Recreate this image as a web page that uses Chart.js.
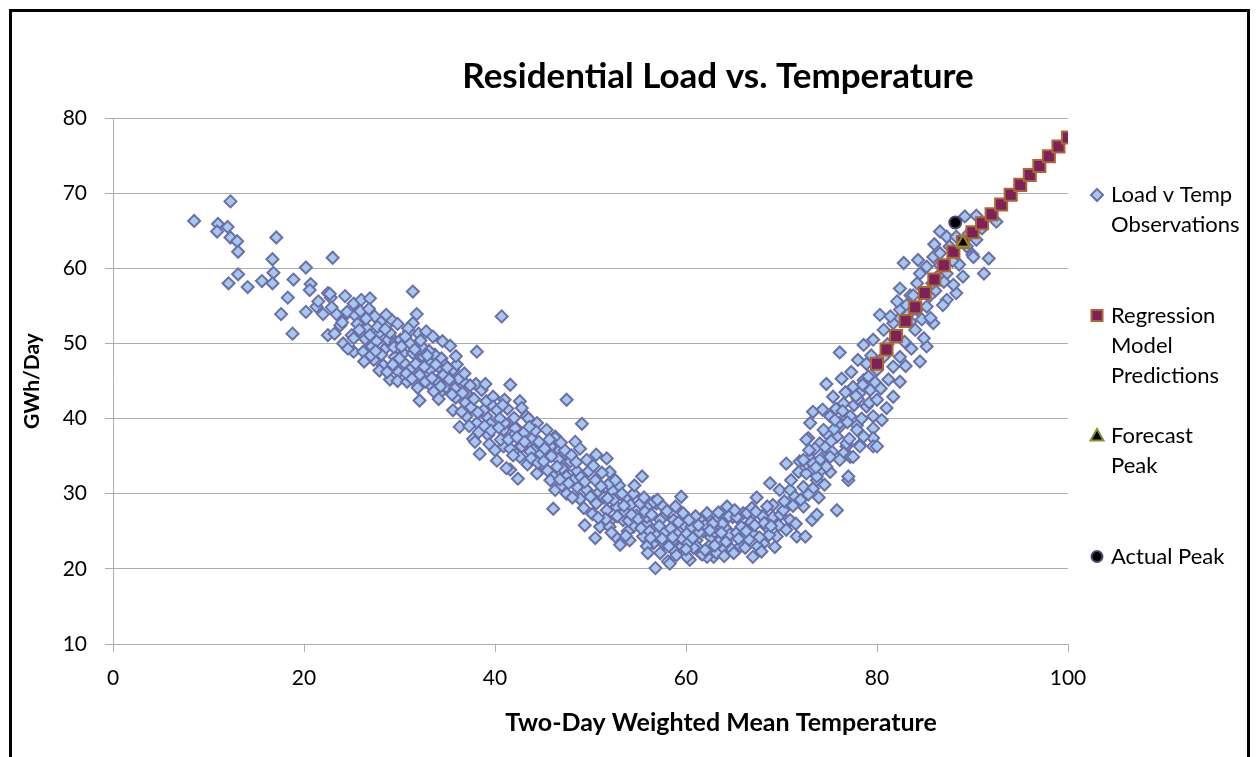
<!DOCTYPE html>
<html>
<head>
<meta charset="utf-8">
<title>Residential Load vs. Temperature</title>
<script src="https://cdn.jsdelivr.net/npm/chart.js@4.4.1/dist/chart.umd.min.js"></script>
<style>
  html, body { margin: 0; padding: 0; background: #fff; overflow: hidden; }
  #wrap { position: relative; width: 1256px; height: 757px; }
  #frame {
    position: absolute; left: 9px; top: 9px; width: 1241px; height: 800px;
    border: 3px solid #000; box-sizing: border-box; pointer-events: none;
  }
</style>
</head>
<body>
<div id="wrap">
  <canvas id="grafico" width="1256" height="757"></canvas>
  <div id="frame"></div>
</div>
<script>
// datos: [temperatura, GWh/dia]
const observaciones = [
  [8.5,66.3],[11.0,65.9],[10.9,64.9],[12.0,65.5],[12.3,68.9],[12.3,64.1],[13.0,63.6],[13.1,62.2],
  [17.1,64.1],[16.7,61.2],[16.8,59.4],[13.1,59.2],[12.1,58.0],[14.1,57.5],[15.6,58.3],[16.7,58.0],
  [18.9,58.5],[18.3,56.1],[17.6,53.9],[18.8,51.3],
  [23.0,61.4],[20.2,60.1],[20.7,57.9],[20.6,57.1],[20.2,54.2],[21.3,54.9],[22.0,53.9],[22.5,56.7],
  [22.8,56.1],[22.7,56.6],[24.3,56.3],[23.4,53.9],[24.5,54.0],[22.5,51.1],[23.2,51.3],[24.1,50.0],
  [25.0,51.1],[25.2,48.9],[25.2,50.7],[25.2,55.3],[25.3,53.8],[24.5,54.2],[21.5,55.6],[23.8,52.4],
  [24.6,49.3],[22.9,54.8],[24.0,52.8],
  [26.0,55.8],[26.9,56.0],[26.6,52.0],[28.0,52.9],[29.2,53.1],[26.2,48.9],[27.3,47.8],[28.3,47.1],
  [27.8,51.3],[28.8,50.5],[29.0,45.2],[29.5,48.2],[25.6,52.6],[26.4,50.6],[27.1,49.6],[27.6,50.3],
  [28.4,49.2],[29.0,51.4],[29.6,50.2],[26.9,51.1],[28.1,48.5],[29.3,47.2],[27.9,46.4],[25.9,54.3],
  [27.4,53.6],[28.6,53.8],[29.8,52.6],[26.5,53.3],[29.9,46.2],[27.0,48.4],[25.8,51.8],[26.8,54.6],
  [27.7,52.2],[28.5,51.9],[29.4,49.5],[26.3,47.6],[27.5,49.0],[28.7,46.2],[29.8,45.0],
  [30.1,50.5],[31.1,50.0],[31.4,56.9],[31.8,53.9],[31.4,52.7],[30.8,44.9],[32.1,42.4],[30.4,48.7],
  [31.4,48.7],[32.5,48.2],[33.7,48.5],[31.1,46.5],[32.1,45.8],[33.2,46.5],[34.1,46.9],[34.6,45.8],
  [32.0,51.3],[32.8,51.6],[33.5,50.9],[33.2,44.5],[34.2,43.4],[34.9,44.2],[30.5,47.4],[31.7,47.3],
  [32.4,49.5],[33.0,47.6],[33.9,45.0],[30.2,49.6],[31.0,51.6],[32.7,44.9],[34.4,48.0],[33.6,43.6],
  [30.7,46.0],[31.9,44.1],[34.8,47.1],[32.2,50.4],[33.1,49.0],[34.1,42.6],[30.9,52.0],[34.5,50.3],
  [30.0,48.0],[30.6,50.9],[31.6,49.2],[32.9,48.4],[33.8,47.2],[31.3,45.3],[32.6,46.9],[33.4,45.4],
  [34.3,44.3],
  [35.3,49.7],[35.6,46.5],[35.8,44.0],[36.7,44.9],[37.0,43.4],[38.1,48.9],[35.6,41.1],[36.3,38.9],
  [37.0,40.3],[38.1,39.4],[38.6,43.8],[39.1,42.3],[39.8,42.9],[39.1,40.3],[37.7,37.3],[39.3,37.8],
  [38.4,35.3],[36.2,45.3],[36.9,42.1],[37.5,41.5],[38.0,44.6],[35.9,42.8],[36.5,40.9],[37.8,42.6],
  [38.8,41.1],[39.5,39.3],[35.2,45.2],[36.0,47.2],[38.3,38.2],[39.8,41.6],[37.3,39.0],[35.5,43.2],
  [36.8,46.0],[39.0,44.6],[35.0,46.8],[35.9,48.3],[36.6,43.4],[37.4,44.4],[38.2,40.8],[38.9,39.0],
  [39.6,38.4],[39.4,36.6],[37.9,36.9],
  [40.2,41.1],[40.7,53.6],[41.0,42.5],[41.6,44.5],[42.6,42.3],[40.9,38.5],[42.1,38.9],[40.9,36.3],
  [42.6,36.3],[42.6,34.9],[40.0,35.8],[41.6,33.2],[42.4,32.0],[43.3,40.3],[44.4,39.4],[44.0,35.8],
  [44.9,34.0],[44.4,32.7],[42.8,41.4],[41.0,39.4],[42.1,38.7],[43.5,40.0],[41.6,36.0],[42.8,36.3],
  [43.7,35.6],[41.2,33.4],[40.2,34.4],[40.5,40.0],[41.3,41.3],[43.0,38.1],[43.9,37.3],[44.6,36.9],
  [41.8,37.6],[40.6,37.2],[43.4,33.9],[44.2,38.4],[42.0,40.1],[44.8,35.3],[40.4,38.8],[41.4,37.2],
  [42.3,37.5],[43.1,36.9],[43.8,34.7],[44.5,34.1],[40.8,41.8],[41.9,35.1],[43.6,38.9],
  [45.4,38.5],[46.3,37.6],[47.5,42.5],[45.8,36.3],[46.8,35.8],[47.3,35.4],[46.1,32.3],[47.2,33.2],
  [49.1,39.3],[46.3,37.4],[47.3,35.8],[48.4,36.9],[48.9,36.0],[45.1,34.3],[45.8,31.8],[46.3,30.5],
  [47.0,33.4],[47.5,32.3],[48.6,33.0],[49.6,34.5],[46.1,28.0],[47.5,30.0],[48.6,30.9],[49.6,30.5],
  [49.4,25.8],[45.5,33.1],[46.6,34.6],[47.9,34.3],[48.2,31.8],[49.0,32.2],[45.9,35.0],[47.0,31.1],
  [48.9,29.3],[49.8,33.0],[46.9,36.8],[48.0,35.1],[45.2,36.0],[49.3,28.1],[45.7,37.2],[46.5,33.6],
  [47.7,31.4],[48.5,34.2],[49.4,31.6],[48.1,29.5],[46.8,31.9],
  [50.6,35.2],[51.7,34.7],[50.5,31.8],[52.0,32.9],[50.5,24.1],[51.0,25.6],[52.0,26.3],[52.6,24.3],
  [53.1,23.2],[50.6,28.7],[51.7,27.8],[52.7,28.3],[53.8,29.2],[54.5,30.0],[55.4,32.3],[52.0,25.6],
  [53.4,26.5],[54.5,25.6],[54.1,23.8],[50.9,30.2],[51.4,29.5],[52.3,30.4],[53.0,31.1],[53.6,27.6],
  [54.2,28.5],[51.2,32.8],[52.8,27.0],[53.9,25.0],[54.8,27.1],[50.2,27.3],[51.6,26.6],[52.4,29.2],
  [53.3,30.0],[54.6,31.1],[50.0,29.6],[54.0,26.4],[51.9,31.3],[50.3,33.7],[51.1,31.0],[51.8,29.4],
  [52.6,31.8],[53.5,28.4],[54.3,27.2],[55.0,26.6],[50.8,26.8],[52.2,24.8],[53.7,24.4],
  [55.5,24.3],[55.9,26.0],[55.9,28.3],[56.9,28.7],[57.6,26.9],[58.7,26.5],[59.5,29.6],[56.8,20.1],
  [56.6,23.4],[57.3,22.1],[58.1,21.0],[58.7,23.8],[59.5,22.9],[55.2,28.7],[56.6,28.9],[57.6,28.3],
  [55.9,26.9],[57.3,26.5],[59.7,27.4],[58.3,20.7],[55.9,23.0],[58.7,22.5],[55.3,25.4],[56.2,25.0],
  [56.9,24.4],[57.8,24.9],[58.4,25.4],[59.1,24.6],[59.8,25.8],[55.7,27.6],[56.4,27.2],[57.2,25.7],
  [58.0,27.7],[59.2,26.2],[56.0,22.1],[57.7,23.3],[59.0,21.8],[55.6,29.5],[58.9,28.3],[57.0,29.2],
  [56.3,24.1],[59.6,24.0],[57.5,24.0],[58.2,23.0],[58.6,24.2],
  [60.1,24.7],[61.1,23.8],[62.2,26.9],[63.2,25.6],[64.3,28.3],[64.9,26.9],[61.5,22.1],[62.9,21.6],
  [63.9,22.5],[60.4,21.2],[60.1,21.6],[61.1,23.0],[62.2,21.6],[63.2,22.1],[61.5,26.5],[62.2,27.4],
  [63.2,26.5],[64.3,25.2],[60.6,25.6],[61.0,27.0],[61.8,25.0],[62.6,24.2],[63.5,23.7],[64.2,23.6],
  [60.3,26.5],[61.4,24.9],[62.4,23.0],[63.0,24.9],[63.8,26.0],[64.6,24.6],[60.8,22.8],[62.0,25.8],
  [63.4,27.5],[64.8,22.6],[61.7,21.9],[60.2,23.4],[62.8,26.0],[64.0,21.7],[60.0,22.6],[61.3,25.8],
  [62.5,25.1],[63.7,24.8],[60.7,24.1],[62.0,22.5],[64.5,27.0],[63.0,23.1],
  [65.7,23.8],[67.0,24.7],[68.1,23.4],[67.0,21.6],[66.0,27.4],[66.5,25.6],[65.0,22.1],[65.7,23.0],
  [65.3,26.9],[66.4,27.4],[67.4,29.5],[68.4,25.6],[69.1,26.9],[69.5,24.3],[69.1,28.5],[68.8,31.4],
  [69.8,30.5],[65.3,24.8],[66.2,22.8],[66.8,26.2],[67.5,23.0],[68.0,27.0],[68.7,24.5],[69.3,22.9],
  [65.8,25.6],[66.6,23.9],[67.2,25.8],[67.9,22.3],[68.5,28.3],[69.7,25.8],[65.1,27.8],[66.9,28.1],
  [68.2,26.1],[69.9,27.2],[65.5,24.0],[66.3,25.0],[67.7,24.2],[68.9,25.7],[67.3,27.6],
  [70.5,25.2],[71.6,24.3],[72.5,24.3],[70.2,27.8],[70.9,26.5],[72.3,28.3],[73.2,26.5],[73.7,27.2],
  [70.9,30.5],[71.4,29.6],[72.3,30.9],[73.3,30.7],[70.5,34.0],[71.9,34.3],[73.0,34.7],[74.2,34.0],
  [75.1,32.9],[71.8,32.9],[72.6,32.7],[73.7,31.8],[74.2,33.2],[73.0,39.4],[72.8,37.4],[74.7,38.0],
  [74.0,34.5],[72.6,34.0],[73.3,40.9],[72.6,37.2],[74.0,36.7],[72.3,34.5],[73.3,34.0],[74.7,33.6],
  [73.7,32.3],[74.7,44.6],[74.4,38.5],[71.0,31.8],[71.5,26.0],[72.0,29.2],[73.9,29.5],[74.5,31.2],
  [70.3,29.0],[73.5,36.0],[74.3,41.2],[72.9,35.8],[74.8,35.5],[75.8,27.8],[71.2,28.4],[72.8,29.9],
  [73.6,33.5],[74.6,36.2],
  [76.1,38.9],[77.9,39.1],[79.6,38.7],[79.6,37.4],[79.6,36.3],[78.2,36.5],[76.8,36.3],[75.3,35.6],
  [76.5,35.4],[77.2,34.9],[75.1,34.9],[77.0,31.8],[76.1,48.8],[75.4,42.9],[76.5,42.0],[75.1,40.3],
  [76.1,39.4],[77.2,40.3],[75.8,37.6],[76.8,36.7],[77.9,38.5],[78.2,36.3],[76.1,34.5],[77.5,34.9],
  [77.0,32.3],[77.5,44.2],[78.6,45.1],[78.2,43.4],[79.3,43.8],[78.9,41.6],[79.6,40.3],[78.6,37.6],
  [78.6,49.8],[79.6,50.5],[78.0,47.8],[78.9,47.3],[75.7,41.3],[76.7,43.5],[77.6,41.8],[78.4,40.0],
  [79.1,45.6],[77.3,46.2],[76.3,45.3],[79.4,48.4],[75.5,38.6],[78.0,42.6],[75.6,39.8],[76.4,41.0],
  [77.1,37.3],[77.8,43.0],[78.5,44.5],[79.2,42.1],[79.8,44.8],[76.9,39.5],[75.2,37.0],
  [80.0,42.5],[81.7,42.9],[82.4,44.9],[81.0,41.4],[80.0,46.5],[80.0,36.3],[84.5,47.6],[80.7,51.8],
  [81.7,52.7],[82.4,53.4],[83.5,52.9],[80.7,48.2],[81.7,46.9],[82.4,48.2],[80.3,53.8],[81.4,53.6],
  [82.4,54.5],[82.1,55.6],[83.1,55.1],[84.2,54.5],[82.4,57.3],[83.5,56.4],[84.2,58.0],[83.8,56.4],
  [82.8,60.7],[84.3,61.1],[84.5,59.3],[80.4,44.0],[81.2,45.2],[82.9,50.2],[83.6,49.3],[84.0,51.8],
  [81.1,49.9],[82.0,51.0],[83.0,47.0],[84.7,53.2],[80.5,39.8],[83.3,53.9],
  [85.2,49.6],[84.9,50.7],[85.9,52.7],[85.6,53.4],[85.2,54.9],[85.2,60.2],[85.9,61.5],[86.6,60.4],
  [87.3,59.3],[87.3,55.8],[88.3,56.7],[86.9,55.1],[88.0,57.8],[86.6,64.9],[89.0,58.9],[91.2,59.3],
  [90.0,61.8],[91.7,61.3],[87.3,64.2],[88.3,64.2],[89.4,62.9],[90.4,63.8],[89.2,66.9],[90.4,67.0],
  [92.5,66.2],[90.1,61.5],[87.6,62.9],[86.6,62.0],[86.1,57.0],[87.0,58.2],[85.5,56.3],[86.4,59.0],
  [88.6,60.5],[89.6,64.6],[91.0,65.3],[86.0,63.2],[87.9,61.0],[85.8,58.0]
];

const prediccionTemp = [80,81,82,83,84,85,86,87,88,89,90,91,92,93,94,95,96,97,98,99,100];
const prediccionCarga = [47.3,49.2,51.0,53.0,54.8,56.7,58.5,60.4,62.2,63.5,64.8,66.0,67.2,68.5,69.8,71.1,72.4,73.6,74.9,76.2,77.4];

const picoPronostico = [[89, 63.4]];
const picoReal = [[88.2, 66.1]];

const tituloGrafico = 'Residential Load vs. Temperature';
const tituloEjeX = 'Two-Day Weighted Mean Temperature';
const tituloEjeY = 'GWh/Day';

const leyenda = [
  { lineas: ['Load v Temp', 'Observations'], forma: 'diamante', relleno: '#A5C8F0', borde: '#6B6FA8' },
  { lineas: ['Regression', 'Model', 'Predictions'], forma: 'cuadro', relleno: '#7E1F5E', borde: '#A8682E' },
  { lineas: ['Forecast', 'Peak'], forma: 'triangulo', relleno: '#000000', borde: '#8E8E2E' },
  { lineas: ['Actual Peak'], forma: 'circulo', relleno: '#000000', borde: '#4A4A7A' }
];

const aPuntos = (pares) => pares.map(p => ({ x: p[0], y: p[1] }));

const FUENTE = 'Lato, "Open Sans", sans-serif';
Chart.defaults.font.family = FUENTE;
Chart.defaults.color = '#000';

function dibujarMarca(ctx, forma, x, y) {
  ctx.beginPath();
  if (forma === 'diamante') {
    ctx.moveTo(x, y - 6); ctx.lineTo(x + 6, y); ctx.lineTo(x, y + 6); ctx.lineTo(x - 6, y);
    ctx.closePath();
  } else if (forma === 'cuadro') {
    ctx.rect(x - 5.5, y - 5.5, 11, 11);
  } else if (forma === 'triangulo') {
    ctx.moveTo(x, y - 7); ctx.lineTo(x + 6.5, y + 4.5); ctx.lineTo(x - 6.5, y + 4.5);
    ctx.closePath();
  } else {
    ctx.arc(x, y, 5.5, 0, Math.PI * 2);
  }
  ctx.fill();
  ctx.stroke();
}

const decoracion = {
  id: 'decoracion',
  afterDraw(chart) {
    const ctx = chart.ctx;
    const area = chart.chartArea;
    ctx.save();
    ctx.fillStyle = '#000';
    ctx.textAlign = 'center';
    ctx.textBaseline = 'middle';

    ctx.font = 'bold 35px ' + FUENTE;
    ctx.fillText(tituloGrafico, 718, 77);

    ctx.font = 'bold 25px ' + FUENTE;
    ctx.fillText(tituloEjeX, 721, 723);

    // leyenda a la derecha
    ctx.font = '22px ' + FUENTE;
    ctx.textAlign = 'left';
    const xMarca = area.right + 29;
    const xTexto = area.right + 43;
    let yItem = area.top + 77;
    leyenda.forEach(item => {
      ctx.fillStyle = item.relleno;
      ctx.strokeStyle = item.borde;
      ctx.lineWidth = 2;
      dibujarMarca(ctx, item.forma, xMarca, yItem);
      ctx.fillStyle = '#000';
      item.lineas.forEach((linea, i) => {
        ctx.fillText(linea, xTexto, yItem + i * 30);
      });
      yItem += 120.5;
    });
    ctx.restore();
  }
};

const ctx = document.getElementById('grafico').getContext('2d');
new Chart(ctx, {
  type: 'scatter',
  data: {
    datasets: [
      {
        label: 'Actual Peak',
        data: aPuntos(picoReal),
        pointStyle: 'circle',
        pointRadius: 6,
        backgroundColor: '#000000',
        borderColor: '#4A4A7A',
        borderWidth: 2,
        order: 0
      },
      {
        label: 'Forecast Peak',
        data: aPuntos(picoPronostico),
        pointStyle: 'triangle',
        pointRadius: 7.5,
        backgroundColor: '#000000',
        borderColor: '#8E8E2E',
        borderWidth: 2,
        order: 1
      },
      {
        label: 'Regression Model Predictions',
        data: prediccionTemp.map((t, i) => ({ x: t, y: prediccionCarga[i] })),
        pointStyle: 'rect',
        pointRadius: 8.5,
        backgroundColor: '#7E1F5E',
        borderColor: '#A8682E',
        borderWidth: 2,
        order: 2
      },
      {
        label: 'Load v Temp Observations',
        data: aPuntos(observaciones),
        pointStyle: 'rectRot',
        pointRadius: 6,
        backgroundColor: '#A5C8F0',
        borderColor: '#6B6FA8',
        borderWidth: 2,
        order: 3
      }
    ]
  },
  options: {
    responsive: false,
    animation: false,
    layout: { padding: { left: 13, top: 118, right: 188, bottom: 13 } },
    plugins: {
      legend: { display: false },
      title: { display: false },
      tooltip: { enabled: false }
    },
    scales: {
      x: {
        type: 'linear',
        min: 0,
        max: 100,
        ticks: { stepSize: 20, padding: 14, font: { size: 21 }, color: '#000' },
        grid: { drawOnChartArea: false, tickLength: 8, color: '#ADADAD' },
        border: { color: '#ADADAD' },
        afterFit: (escala) => { escala.height = 100; }
      },
      y: {
        min: 10,
        max: 80,
        ticks: { stepSize: 10, padding: 18, font: { size: 21 }, color: '#000' },
        grid: { tickLength: 8, color: '#ADADAD' },
        border: { color: '#ADADAD' },
        title: {
          display: true,
          text: tituloEjeY,
          color: '#000',
          font: { size: 21, weight: 'bold' },
          padding: { top: 7 }
        },
        afterFit: (escala) => { escala.width = 100; }
      }
    }
  },
  plugins: [decoracion]
});
</script>
</body>
</html>
